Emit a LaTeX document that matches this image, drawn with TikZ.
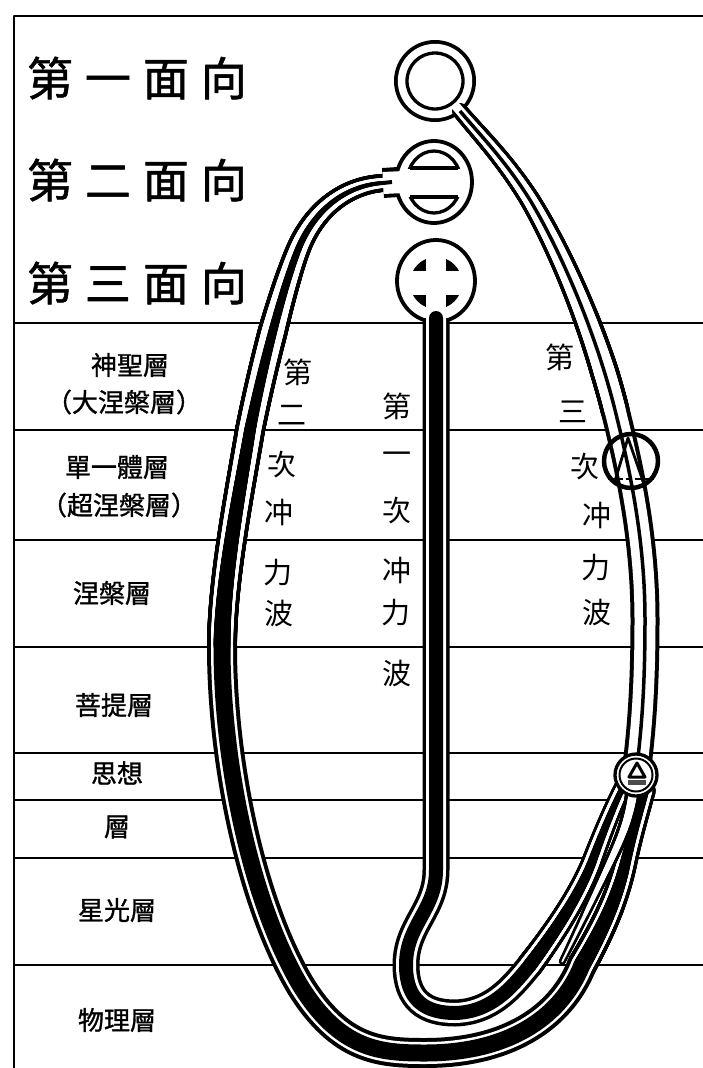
\documentclass[tikz,border=0pt]{standalone}
\usepackage{fontspec}
\usetikzlibrary{decorations.markings}
\newfontfamily\cjk{Noto Sans CJK TC}
\newfontfamily\cjkb[FakeBold=1.2]{Noto Sans CJK TC}
% tapered stroke: #1 colour, #2 start radius, #3 end radius, #4 taper length (pt), #5 path
\newcommand\taperline[5]{%
  \path[decoration={markings,
     mark=between positions 0 and 1 step 0.8pt with {%
       \pgfmathsetmacro\tprad{#2+(#3-#2)*min(1,(\pgfkeysvalueof{/pgf/decoration/mark info/sequence number}-1)*0.8/#4)}%
       \fill[#1] (0pt,0pt) circle [radius=\tprad pt];}},
   decorate] #5;}
\begin{document}
\begin{tikzpicture}[x=1pt,y=-1pt,line join=round,
  frameline/.style={line width=2.6pt},
  rowline/.style={line width=2pt},
  facet/.style={font=\cjkb\fontsize{46}{46}\selectfont, inner sep=0pt},
  layer/.style={font=\cjkb\fontsize{26}{26}\selectfont, inner sep=0pt},
  wave/.style={font=\cjk\fontsize{29}{29}\selectfont, inner sep=0pt},
  ring/.style={line width=3.8pt},
]
\useasboundingbox (0,0) rectangle (703,1068);
\fill[white] (0,0) rectangle (703,1068);

% ---------- frame and layer lines ----------
\draw[frameline] (14,1068) -- (14,16) -- (703,16);
\foreach \yy in {323,430,540,647,753,800,858,965}
  \draw[rowline] (14,\yy) -- (703,\yy);

% ---------- named points ----------
\coordinate (c1) at (435,81);
\coordinate (c2) at (434,182);
\coordinate (c3) at (436,281);
\coordinate (ctri) at (631,461);
\coordinate (csmall) at (636,775);

% ---------- circle bases ----------
\fill[black] (c1) circle (41);
\fill[white] (c1) circle (37.2);
\draw[ring, fill=white] (c2) circle [x radius=38, y radius=41];
\draw[ring, fill=white] (c3) circle [x radius=39, y radius=41];

% ---------- path definitions ----------
\def\pT{(383,183) .. controls (350,185) and (318,205) .. (300,245) .. controls (285,280) and (264,360) .. (250,430) .. controls (240,490) and (222,580) .. (222,647)}
\def\pEa{(222,647) .. controls (222,760) and (250,900) .. (300,985) .. controls (340,1050) and (380,1053) .. (425,1053) .. controls (505,1053) and (560,1020) .. (582,965)}
\def\pEb{(582,965) .. controls (605,925) and (618,895) .. (626,860) .. controls (632,835) and (640,810) .. (646,790)}
\def\pJa{(436,318) -- (436,870) .. controls (436,910) and (406,925) .. (406,965) .. controls (406,1000) and (425,1013) .. (455,1013) .. controls (490,1012) and (510,990) .. (530,965)}
\def\pJb{(530,965) .. controls (558,928) and (580,893) .. (592,862) .. controls (603,832) and (614,805) .. (624,785)}
\def\pPa{(460,111) .. controls (480,135) and (505,160) .. (530,200) .. controls (560,250) and (595,330) .. (615,410)}
\def\pPb{(615,410) .. controls (630,470) and (645,540) .. (645,620) .. controls (645,700) and (640,740) .. (636,775)}
\def\pL{(634,785) .. controls (630,820) and (620,840) .. (610,862) .. controls (596,892) and (578,930) .. (562,962)}

% ---------- second wave: big left loop ----------
\draw[line width=30pt] (398,182) -- (383,183);
\taperline{black}{9}{15}{200}{\pT}
\draw[line width=30pt] \pEa;
\taperline{black}{15}{10}{185}{\pEb}
\draw[white,line width=22pt] (404,182) -- (383,183);
\taperline{white}{5}{11}{200}{\pT}
\draw[white,line width=22pt] \pEa;
\taperline{white}{11}{6.5}{185}{\pEb}
\draw[line width=4pt] (392,182) -- (383,183);
\taperline{black}{2}{8.5}{516}{\pT}
\draw[line width=17pt] \pEa;
\taperline{black}{8.5}{3.5}{185}{\pEb}

% ---------- first wave: central J tube ----------
\draw[line width=27pt] \pJa;
\taperline{black}{13.5}{9}{200}{\pJb}
\draw[white,line width=20pt] (436,312) -- \pJa;
\taperline{white}{10}{6}{200}{\pJb}
\draw[line width=14pt] (436,321) -- \pJa;
\taperline{black}{7}{3}{200}{\pJb}

% ---------- lower part of the thin tube ----------
\taperline{black}{8}{3.5}{193}{\pL}
\taperline{white}{4.5}{1}{193}{\pL}

% ---------- third wave: thin tube from the first circle ----------
\taperline{black}{8}{14.5}{300}{\pPa}
\draw[line width=29pt] \pPb;
\draw[white,line width=9pt] (447,96) -- (460,111);
\taperline{white}{4.5}{10.5}{300}{\pPa}
\draw[white,line width=21pt] \pPb;
\draw[line width=3.5pt] \pPa;
\draw[line width=3.5pt] \pPb;

% ---------- circle interiors ----------
\draw[line width=3.3pt] (c1) circle (28);
\begin{scope}
  \clip (390,130) rectangle (480,168);
  \draw[line width=3.3pt] (c2) circle [x radius=27, y radius=31];
\end{scope}
\draw[line width=3.3pt] (410,168) -- (458,168);
\begin{scope}
  \clip (390,197) rectangle (480,235);
  \draw[line width=3.3pt] (c2) circle [x radius=27, y radius=31];
\end{scope}
\draw[line width=3.3pt] (410,197) -- (458,197);
\begin{scope}
  \clip (436,283) circle (26);
  \fill (400,250) rectangle (426,271);
  \fill (446,250) rectangle (472,271);
  \fill (400,295) rectangle (426,320);
  \fill (446,295) rectangle (472,320);
\end{scope}

% triangle circle on the thin tube
\draw[line width=4.5pt] (ctri) circle (27);
\draw[line width=2.8pt] (614,484) -- (628,438) -- (644,484);
\draw[line width=2.8pt, dash pattern=on 6pt off 3pt] (608,479) -- (654,479);

% small circle where the tubes meet
\fill[white] (csmall) circle (21);
\draw[line width=3.3pt] (csmall) circle (21);
\draw[line width=2pt] (csmall) circle (16.5);
\draw[line width=3pt, fill=white] (637,763) -- (629,777) -- (645,777) -- cycle;
\fill[black!70] (628,780) rectangle (646,785);

% ---------- texts ----------
\node[facet] (f1) at (137,78) {第\hspace{12pt}一\hspace{12pt}面\hspace{12pt}向};
\node[facet] (f2) at (137,180) {第\hspace{12pt}二\hspace{12pt}面\hspace{12pt}向};
\node[facet] (f3) at (137,283) {第\hspace{12pt}三\hspace{12pt}面\hspace{12pt}向};

\node[layer] (l1) at (130,365) {神聖層};
\node[layer] (l1b) at (124,402) {（大涅槃層）};
\node[layer] (l2) at (117,467) {單一體層};
\node[layer] (l2b) at (119,505) {（超涅槃層）};
\node[layer] (l3) at (112,593) {涅槃層};
\node[layer] (l4) at (114,705) {菩提層};
\node[layer] (l5) at (117,773) {思想};
\node[layer] (l5b) at (117,827) {層};
\node[layer] (l6) at (117,910) {星光層};
\node[layer] (l7) at (117,1020) {物理層};

% second wave column
\node[wave] (a1) at (298,372) {第};
\node[wave] (a2) at (292,415) {二};
\node[wave] (a3) at (282,465) {次};
\node[wave] (a4) at (279,512) {冲};
\node[wave] (a5) at (278,573) {力};
\node[wave] (a6) at (279,613) {波};
% first wave column
\node[wave] (b1) at (397,406) {第};
\node[wave] (b2) at (397,458) {一};
\node[wave] (b3) at (397,511) {次};
\node[wave] (b4) at (397,570) {冲};
\node[wave] (b5) at (396,613) {力};
\node[wave] (b6) at (397,673) {波};
% third wave column
\node[wave] (d1) at (560,357) {第};
\node[wave] (d2) at (573,412) {三};
\node[wave] (d3) at (585,467) {次};
\node[wave] (d4) at (597,515) {冲};
\node[wave] (d5) at (596,568) {力};
\node[wave] (d6) at (597,612) {波};
\end{tikzpicture}
\end{document}
